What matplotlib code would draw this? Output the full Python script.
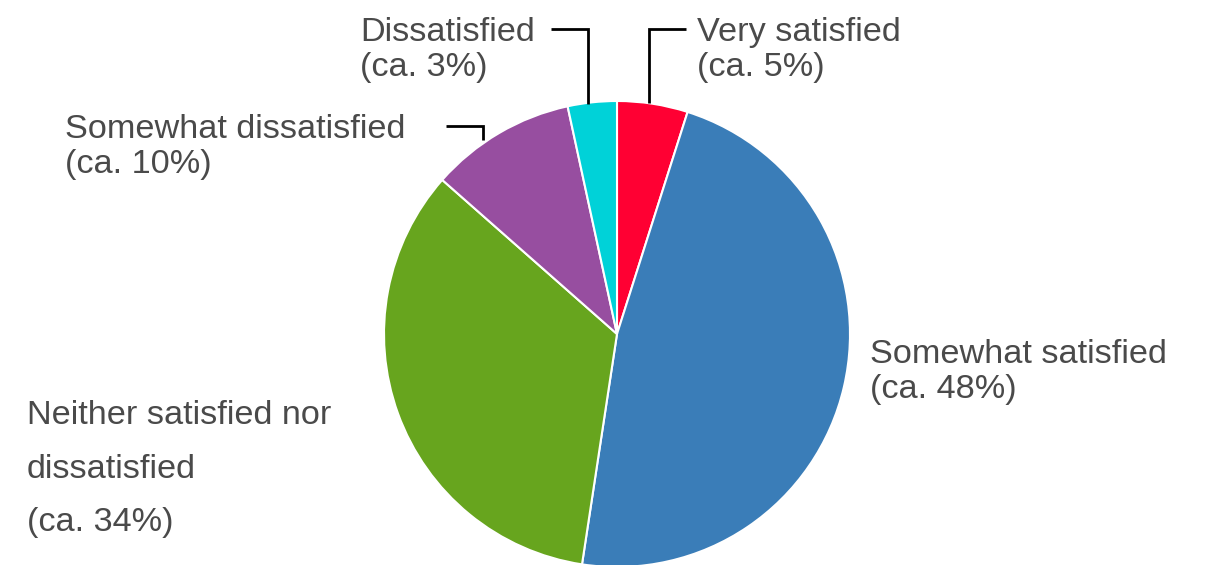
import matplotlib
matplotlib.use("Agg")
import matplotlib.pyplot as plt

# ---------------------------------------------------------------------------
# Data
# ---------------------------------------------------------------------------
labels = ["Very satisfied", "Somewhat satisfied", "Neither satisfied nor\ndissatisfied",
          "Somewhat dissatisfied", "Dissatisfied"]
shares = [4.9, 47.5, 34.1, 10.1, 3.4]
share_text = ["ca. 5%", "ca. 48%", "ca. 34%", "ca. 10%", "ca. 3%"]
colors = ["#FF0033", "#3A7DB8", "#67A51E", "#974EA0", "#00D2D8"]

W, H = 1211, 565
TEXT = "#4a4a4a"
FONT = ["Liberation Sans", "DejaVu Sans"]

fig = plt.figure(figsize=(W / 100, H / 100), dpi=100)
ax = fig.add_axes([0, 0, 1, 1])

cx, cy, r = 617, H - 334, 233
ax.pie(shares, colors=colors, startangle=90, counterclock=False,
       center=(cx, cy), radius=r, frame=True,
       wedgeprops=dict(edgecolor="white", linewidth=1.5))
ax.set_xlim(0, W)
ax.set_ylim(0, H)
ax.set_aspect("equal")
ax.axis("off")


def label(x, ytop, text, spacing=1.16):
    ax.text(x, H - ytop, text, ha="left", va="center", fontsize=24.7,
            color=TEXT, family=FONT, linespacing=spacing)


# label blocks (x, vertical centre in px from top)
label(697, 50, f"{labels[0]}\n({share_text[0]})")
label(870, 372, f"{labels[1]}\n({share_text[1]})")
label(27, 469, f"{labels[2]}\n({share_text[2]})", spacing=1.95)
label(65, 147, f"{labels[3]}\n({share_text[3]})")
label(360, 50, f"{labels[4]}\n({share_text[4]})")

# connector lines
def connector(xs, ys):
    ax.plot(xs, [H - y for y in ys], color="black", linewidth=2,
            solid_joinstyle="miter", solid_capstyle="butt")

connector([686, 649, 649], [29, 29, 103])
connector([551, 588, 588], [29, 29, 104])
connector([446, 483, 483], [126, 126, 140])

fig.savefig("out.png", dpi=100, facecolor="white")
